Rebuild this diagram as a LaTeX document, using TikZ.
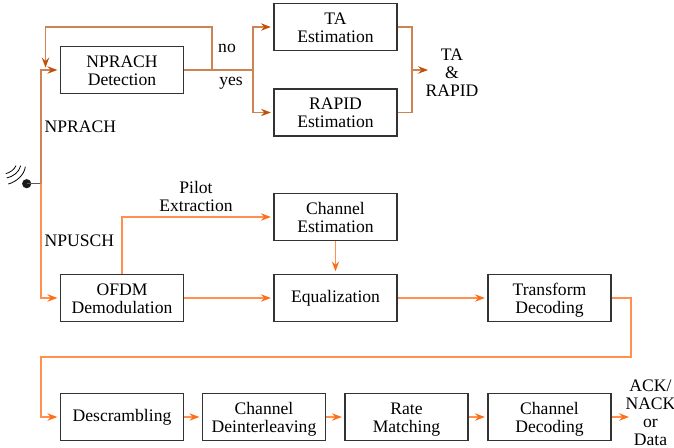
\documentclass[tikz,border=0pt]{standalone}
\usepackage{fontspec}
\setmainfont{Liberation Serif}
\usetikzlibrary{arrows.meta}
\definecolor{upperline}{HTML}{CF8252}
\definecolor{uppertip}{HTML}{BF5208}
\definecolor{lowerline}{HTML}{FF9050}
\definecolor{lowertip}{HTML}{FF6E14}
\tikzset{
  x=1pt,y=-1pt,
  blk/.style={draw=black!80,line width=1.3pt,minimum width=123pt,minimum height=47pt,inner sep=0pt,align=center,font=\fontsize{17.6}{18}\selectfont},
  two/.style={text height=32pt,text depth=2pt},
  lbl/.style={inner sep=0pt,align=center,font=\fontsize{17.6}{18}\selectfont},
  con/.style={line width=1.25pt},
  up/.style={con,draw=upperline},
  lo/.style={con,draw=lowerline},
  uptip/.style={-{Stealth[length=10pt,width=7.5pt,inset=3.5pt,color=uppertip]},shorten >=2.5pt},
  lotip/.style={-{Stealth[length=10pt,width=7.5pt,inset=3.5pt,color=lowertip]},shorten >=2.5pt},
}
\begin{document}
\begin{tikzpicture}
\useasboundingbox (0,0) rectangle (674,447);
\node[blk,two] (det) at (122,70) {NPRACH\\Detection};
\node[blk,two] (ta) at (335.5,27) {TA\\Estimation};
\node[blk,two] (rapid) at (335.5,112.5) {RAPID\\Estimation};
\node[blk,two] (chest) at (335.5,217) {Channel\\Estimation};
\node[blk,two] (ofdm) at (122,298) {OFDM\\Demodulation};
\node[blk] (eq) at (335.5,298) {Equalization};
\node[blk,two] (tfd) at (549.5,298) {Transform\\Decoding};
\node[blk] (desc) at (122,417) {Descrambling};
\node[blk,two] (deint) at (264,417) {Channel\\Deinterleaving};
\node[blk,two] (rate) at (406.5,417) {Rate\\Matching};
\node[blk,two] (dec) at (549.5,417) {Channel\\Decoding};

\node[lbl,anchor=west] (lnprach) at (44.5,127) {NPRACH};
\node[lbl,anchor=west] (lnpusch) at (44.5,241) {NPUSCH};
\node[lbl] (lno) at (227,48.5) {no};
\node[lbl] (lyes) at (231,83.5) {yes};
\node[lbl] (lpilot) at (196,196) {Pilot\\Extraction};
\node[lbl] (out1) at (452,72.5) {TA\\\&\\RAPID};
\node[lbl] (out2) at (650.5,413) {ACK/\\NACK\\or\\Data};

\coordinate (ant) at (26.7,183.7);
\coordinate (trunk) at (41,183.7);
\coordinate (split) at (253,70);
\coordinate (nosplit) at (212,70);
\coordinate (merge) at (412,70);
\coordinate (outa) at (430.5,70);
\coordinate (outb) at (631.5,417);

% antenna
\fill[black!90] (ant) circle (4.6);
\draw[black!65,line width=1.1pt] (ant) -- (trunk);
\draw[black,line width=.8pt] (5.7,173.7) .. controls (10,172.5) and (14,170) .. (16,165.7);
\draw[black,line width=.8pt] (6.7,178) .. controls (13,176.5) and (19,172.5) .. (20.7,165.7);
\draw[black,line width=.8pt] (8.3,184) .. controls (16,182) and (24.5,175) .. (25.3,166.7);

% upper path
\draw[up,uptip] (trunk) -- (41,70) -- (det.west);
\draw[up] (det.east) -- (split);
\draw[up,uptip] (nosplit) -- (212,27) -- (45.5,27) -- (45.5,70);
\draw[up,uptip] (split) |- (ta.west);
\draw[up,uptip] (split) |- (rapid.west);
\draw[up] (ta.east) -- (412,27) -- (merge);
\draw[up] (rapid.east) -- (412,112.5) -- (merge);
\draw[up,uptip] (merge) -- (outa);

% lower path
\draw[lo,lotip] (trunk) |- (ofdm.west);
\draw[lo,lotip] (ofdm.north) -- (122,217) -- (chest.west);
\draw[lo,lotip] (chest.south) -- (eq.north);
\draw[lo,lotip] (ofdm.east) -- (eq.west);
\draw[lo,lotip] (eq.east) -- (tfd.west);
\draw[lo,lotip] (tfd.east) -- (631,298) -- (631,357) -- (41,357) -- (41,417) -- (desc.west);
\draw[lo,lotip] (desc.east) -- (deint.west);
\draw[lo,lotip] (deint.east) -- (rate.west);
\draw[lo,lotip] (rate.east) -- (dec.west);
\draw[lo,lotip] (dec.east) -- (outb);
\end{tikzpicture}
\end{document}
